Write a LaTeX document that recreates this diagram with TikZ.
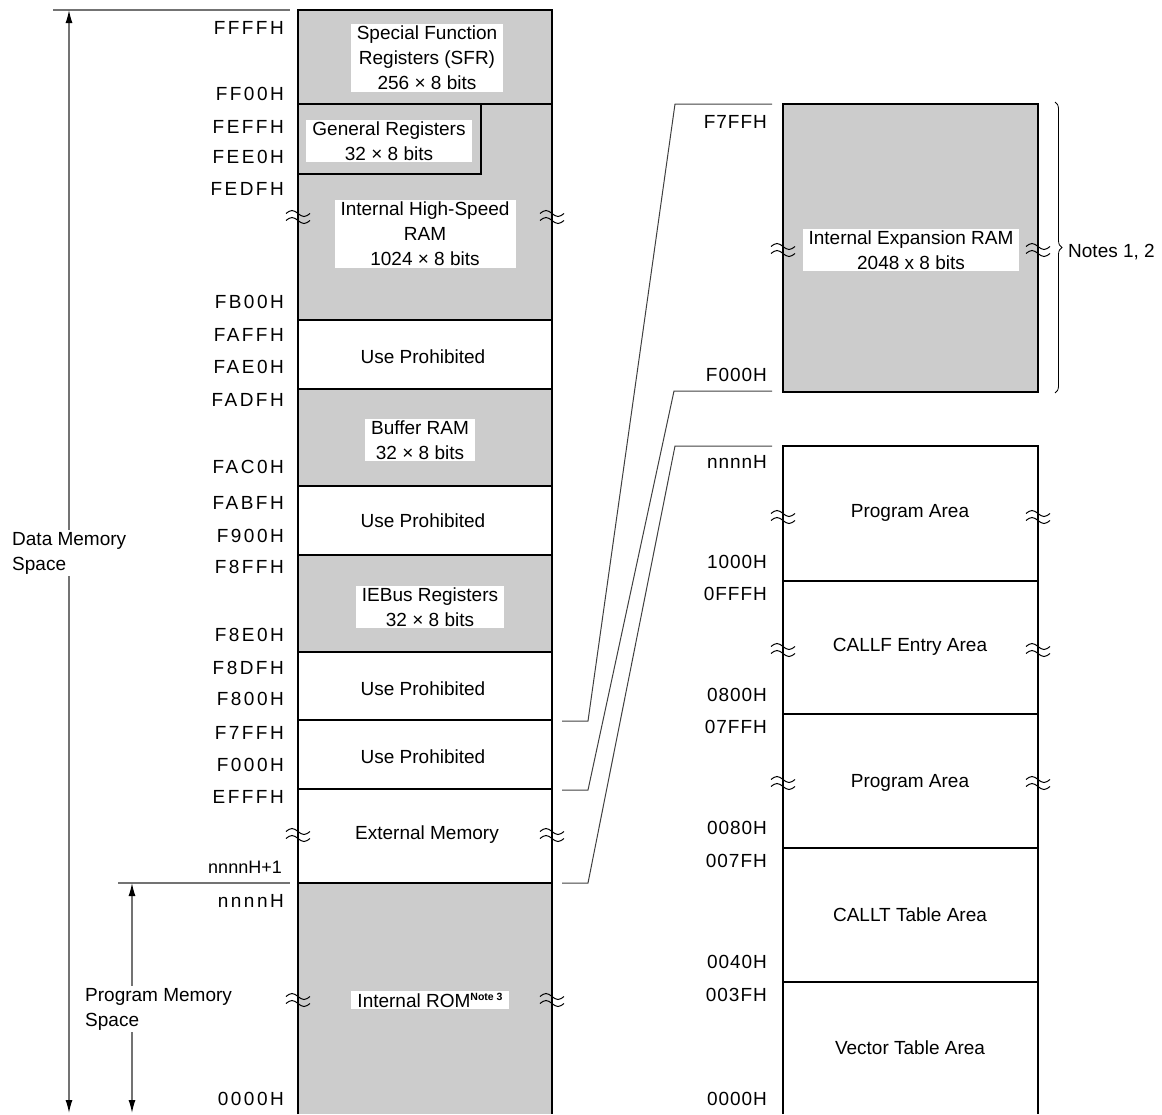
\documentclass[tikz,border=0pt]{standalone}
\usepackage{fontspec}
\setmainfont{Liberation Sans}
\newfontfamily\addrfont[LetterSpace=13]{Liberation Sans}
\newfontfamily\addrfontR[LetterSpace=5]{Liberation Sans}
\usetikzlibrary{arrows.meta,decorations.pathreplacing}

% "approximately" mark across a column edge
\newcommand{\approxmark}[2]{%
  \draw[line width=1pt] (#1-12,#2-3.5) sin (#1-6,#2-6.5) cos (#1,#2-3.5) sin (#1+6,#2-0.5) cos (#1+12,#2-3.5);
  \draw[line width=1pt] (#1-12,#2+3.5) sin (#1-6,#2+0.5) cos (#1,#2+3.5) sin (#1+6,#2+6.5) cos (#1+12,#2+3.5);
}

\begin{document}
\begin{tikzpicture}[x=1pt, y=-1pt,
    font=\fontsize{19}{25}\selectfont,
    >={Latex[length=13pt,width=7pt,color=black]},
    areatext/.style={fill=white, inner xsep=6pt, inner ysep=2pt, align=center},
    plaintext/.style={align=center, inner sep=0pt},
    addrL/.style={anchor=east, inner sep=0pt, font=\fontsize{19}{25}\addrfont},
    addrR/.style={anchor=east, inner sep=0pt, font=\fontsize{19}{25}\addrfontR},
    colborder/.style={line width=2.2pt},
    divider/.style={line width=1.1pt},
    spanline/.style={draw=black!55, line width=1.3pt},
    zoomline/.style={draw=black!75, line width=1pt}]

    \useasboundingbox (0,0) rectangle (1162,1114);

    % Column edges
    \def\Lx{298}
    \def\Rx{552}
    \def\Ex{783}
    \def\Fx{1038}

    % Shaded areas
    \fill[black!20] (\Lx,10) rectangle (\Rx,320);
    \fill[black!20] (\Lx,389) rectangle (\Rx,486);
    \fill[black!20] (\Lx,555) rectangle (\Rx,652);
    \fill[black!20] (\Lx,883) rectangle (\Rx,1114);
    \fill[black!20] (\Ex,104) rectangle (\Fx,392);

    % Data memory map
    \node[areatext] (sfr) at (427,58) {Special Function\\Registers (SFR)\\256 × 8 bits};
    \node[areatext] (gpr) at (389,141) {General Registers\\32 × 8 bits};
    \node[areatext] (hsram) at (425,234) {Internal High-Speed\\RAM\\1024 × 8 bits};
    \node[plaintext] (up1) at (423,357) {Use Prohibited};
    \node[areatext] (bufram) at (420,440) {Buffer RAM\\32 × 8 bits};
    \node[plaintext] (up2) at (423,521) {Use Prohibited};
    \node[areatext] (iebus) at (430,607) {IEBus Registers\\32 × 8 bits};
    \node[plaintext] (up3) at (423,689) {Use Prohibited};
    \node[plaintext] (up4) at (423,757) {Use Prohibited};
    \node[plaintext] (extmem) at (427,835) {External Memory};
    \node[areatext] (rom) at (430,1000) {Internal ROM\raisebox{7pt}{\fontsize{10.5}{10}\selectfont\bfseries Note 3}};

    \draw[colborder] (\Lx,1114) -- (\Lx,10) -- (\Rx,10) -- (\Rx,1114);
    \draw[divider] (\Lx,104) -- (\Rx,104);
    \draw[divider] (\Lx,174) -- (481,174) -- (481,104);
    \draw[divider] (\Lx,320) -- (\Rx,320);
    \draw[divider] (\Lx,389) -- (\Rx,389);
    \draw[divider] (\Lx,486) -- (\Rx,486);
    \draw[divider] (\Lx,555) -- (\Rx,555);
    \draw[divider] (\Lx,652) -- (\Rx,652);
    \draw[divider] (\Lx,720) -- (\Rx,720);
    \draw[divider] (\Lx,789) -- (\Rx,789);
    \draw[divider] (\Lx,883) -- (\Rx,883);

    \approxmark{\Lx}{217} \approxmark{\Rx}{217}
    \approxmark{\Lx}{835} \approxmark{\Rx}{835}
    \approxmark{\Lx}{1000} \approxmark{\Rx}{1000}

    % Addresses, data side
    \node[addrL] (a1) at (284,28) {FFFFH};
    \node[addrL] (a2) at (284,94) {FF00H};
    \node[addrL] (a3) at (284,127) {FEFFH};
    \node[addrL] (a4) at (284,157) {FEE0H};
    \node[addrL] (a5) at (284,189) {FEDFH};
    \node[addrL] (a6) at (284,302) {FB00H};
    \node[addrL] (a7) at (284,335) {FAFFH};
    \node[addrL] (a8) at (284,367) {FAE0H};
    \node[addrL] (a9) at (284,400) {FADFH};
    \node[addrL] (a10) at (284,467) {FAC0H};
    \node[addrL] (a11) at (284,503) {FABFH};
    \node[addrL] (a12) at (284,536) {F900H};
    \node[addrL] (a13) at (284,567) {F8FFH};
    \node[addrL] (a14) at (284,635) {F8E0H};
    \node[addrL] (a15) at (284,668) {F8DFH};
    \node[addrL] (a16) at (284,699) {F800H};
    \node[addrL] (a17) at (284,733) {F7FFH};
    \node[addrL] (a18) at (284,765) {F000H};
    \node[addrL] (a19) at (284,797) {EFFFH};
    \node[anchor=east, inner sep=0pt, font=\fontsize{18}{20}\selectfont] (a20) at (282,867) {nnnnH+1};
    \node[addrL] (a21) at (284,901) {nnnnH};
    \node[addrL] (a22) at (284,1099) {0000H};

    % Expansion RAM
    \node[areatext] (exram) at (911,250) {Internal Expansion RAM\\2048 x 8 bits};
    \draw[colborder] (\Ex,104) rectangle (\Fx,392);
    \approxmark{\Ex}{250} \approxmark{\Fx}{250}
    \node[addrR] (b1) at (767,122) {F7FFH};
    \node[addrR] (b2) at (767,375) {F000H};

    \coordinate (nbtop) at (1055,102);
    \coordinate (nbbot) at (1055,393);
    \draw[line width=0.8pt, decorate, decoration={brace, amplitude=7pt}] (nbtop) -- (nbbot);
    \node[anchor=west, inner sep=0pt] (notes) at (1068,252) {Notes 1, 2};

    % Program memory map
    \node[plaintext] (pa1) at (910,513) {Program Area};
    \node[plaintext] (callf) at (910,647) {CALLF Entry Area};
    \node[plaintext] (pa2) at (910,783) {Program Area};
    \node[plaintext] (callt) at (910,915) {CALLT Table Area};
    \node[plaintext] (vect) at (910,1048) {Vector Table Area};

    \draw[colborder] (\Ex,1114) -- (\Ex,446) -- (\Fx,446) -- (\Fx,1114);
    \draw[divider] (\Ex,581) -- (\Fx,581);
    \draw[divider] (\Ex,714) -- (\Fx,714);
    \draw[divider] (\Ex,848) -- (\Fx,848);
    \draw[divider] (\Ex,982) -- (\Fx,982);

    \approxmark{\Ex}{517} \approxmark{\Fx}{517}
    \approxmark{\Ex}{650} \approxmark{\Fx}{650}
    \approxmark{\Ex}{783} \approxmark{\Fx}{783}

    \node[addrR] (c1) at (767,462) {nnnnH};
    \node[addrR] (c2) at (767,562) {1000H};
    \node[addrR] (c3) at (767,594) {0FFFH};
    \node[addrR] (c4) at (767,695) {0800H};
    \node[addrR] (c5) at (767,727) {07FFH};
    \node[addrR] (c6) at (767,828) {0080H};
    \node[addrR] (c7) at (767,861) {007FH};
    \node[addrR] (c8) at (767,962) {0040H};
    \node[addrR] (c9) at (767,995) {003FH};
    \node[addrR] (c10) at (767,1099) {0000H};

    % Lines from the data map to the blow-ups
    \coordinate (z1a) at (562,721);
    \coordinate (z1b) at (588,721);
    \coordinate (z1c) at (675,104);
    \coordinate (z1d) at (772,104);
    \draw[zoomline] (z1a) -- (z1b) -- (z1c) -- (z1d);
    \coordinate (z2a) at (562,790);
    \coordinate (z2b) at (588,790);
    \coordinate (z2c) at (674,391);
    \coordinate (z2d) at (772,391);
    \draw[zoomline] (z2a) -- (z2b) -- (z2c) -- (z2d);
    \coordinate (z3a) at (562,883);
    \coordinate (z3b) at (588,883);
    \coordinate (z3c) at (675,446);
    \coordinate (z3d) at (772,446);
    \draw[zoomline] (z3a) -- (z3b) -- (z3c) -- (z3d);

    % Space arrows
    \coordinate (dleft) at (53,10);
    \coordinate (dright) at (290,10);
    \coordinate (dtop) at (69,10);
    \coordinate (dbot) at (69,1113);
    \draw[spanline] (dleft) -- (dright);
    \draw[spanline, <->] (dtop) -- (dbot);
    \node[fill=white, align=left, inner xsep=0pt, inner ysep=2pt, anchor=west] (dms) at (12,553) {Data Memory\\Space};

    \coordinate (pleft) at (118,883);
    \coordinate (pright) at (290,883);
    \coordinate (ptop) at (132,883);
    \coordinate (pbot) at (132,1113);
    \draw[spanline] (pleft) -- (pright);
    \draw[spanline, <->] (ptop) -- (pbot);
    \node[fill=white, align=left, inner xsep=0pt, inner ysep=2pt, anchor=west] (pms) at (85,1009) {Program Memory\\Space};

\end{tikzpicture}
\end{document}
